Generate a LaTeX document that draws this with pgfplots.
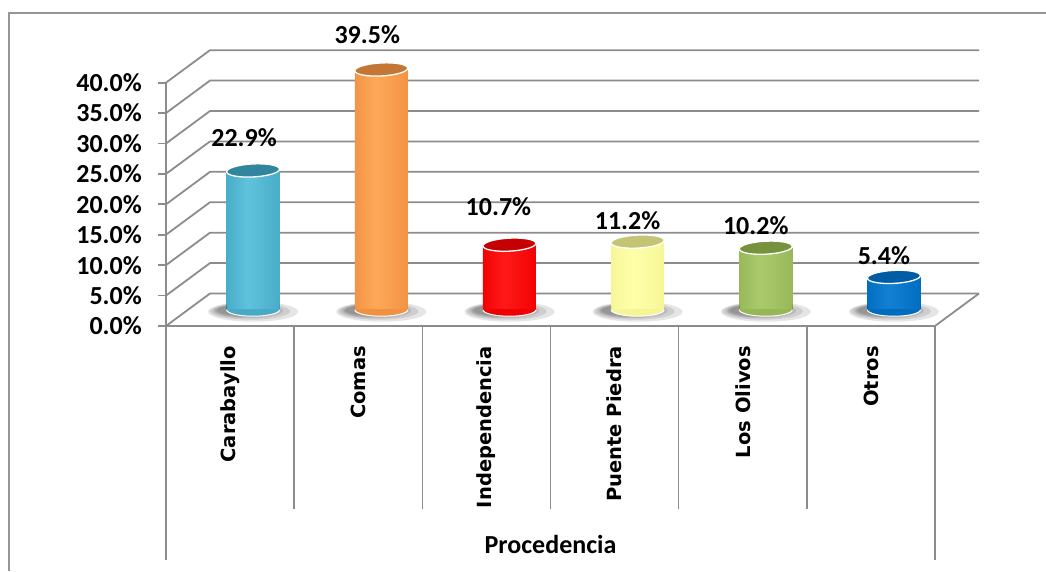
\documentclass[border=0pt]{standalone}
\usepackage{pgfplots}
\pgfplotsset{compat=1.18}
\usepackage{fontspec}
\setmainfont{Carlito}
\newfontfamily\catfont{DejaVu Sans}

\definecolor{gridgray}{RGB}{140,140,140}
\definecolor{framegray}{RGB}{150,150,150}
% teal
\definecolor{AD}{RGB}{45,128,152}\definecolor{AM}{RGB}{72,170,197}\definecolor{AL}{RGB}{95,195,222}\definecolor{AT}{RGB}{49,133,156}
% orange
\definecolor{BD}{RGB}{200,112,42}\definecolor{BM}{RGB}{240,145,65}\definecolor{BL}{RGB}{255,168,90}\definecolor{BT}{RGB}{196,118,52}
% red
\definecolor{CD}{RGB}{185,0,0}\definecolor{CM}{RGB}{240,0,0}\definecolor{CL}{RGB}{255,25,25}\definecolor{CT}{RGB}{196,0,0}
% yellow
\definecolor{DD}{RGB}{205,205,120}\definecolor{DM}{RGB}{245,245,150}\definecolor{DL}{RGB}{255,255,170}\definecolor{DT}{RGB}{196,196,116}
% green
\definecolor{ED}{RGB}{112,142,58}\definecolor{EM}{RGB}{150,183,88}\definecolor{EL}{RGB}{170,202,108}\definecolor{ET}{RGB}{118,146,60}
% blue
\definecolor{FD}{RGB}{0,80,150}\definecolor{FM}{RGB}{0,108,190}\definecolor{FL}{RGB}{20,128,212}\definecolor{FT}{RGB}{0,92,165}

\newcommand\defcyl[1]{%
  \pgfdeclarehorizontalshading{cyl#1}{100bp}{color(0bp)=(#1D); color(22bp)=(#1M); color(45bp)=(#1L); color(78bp)=(#1M); color(100bp)=(#1D)}%
}
\defcyl{A}\defcyl{B}\defcyl{C}\defcyl{D}\defcyl{E}\defcyl{F}

% lower half of the bottom ellipse (fill from mark options) with white rim
\pgfdeclareplotmark{cylbot}{%
  \pgfpathmoveto{\pgfqpoint{-26.5pt}{0.6pt}}%
  \pgfpathlineto{\pgfqpoint{-26.5pt}{0pt}}%
  \pgfpatharc{180}{360}{26.5pt and 6.5pt}%
  \pgfpathlineto{\pgfqpoint{26.5pt}{0.6pt}}%
  \pgfpathclose
  \pgfusepathqfill
  \pgfpathmoveto{\pgfqpoint{-26.5pt}{0pt}}%
  \pgfpatharc{180}{360}{26.5pt and 6.5pt}%
  \pgfusepathqstroke}

\pgfdeclareplotmark{cyltop}{%
  \pgftransformrotate{3}%
  \pgfpathellipse{\pgfpointorigin}{\pgfqpoint{26.5pt}{0pt}}{\pgfqpoint{0pt}{6.5pt}}%
  \pgfusepathqfillstroke}

% soft floor shadow, clipped so that it never covers the cylinder itself
\pgfdeclareplotmark{cylshadow}{%
  \begin{pgfscope}%
  \pgfpathrectangle{\pgfqpoint{-80pt}{-40pt}}{\pgfqpoint{160pt}{80pt}}%
  \pgfpathmoveto{\pgfqpoint{-26.5pt}{40pt}}%
  \pgfpathlineto{\pgfqpoint{-26.5pt}{0pt}}%
  \pgfpatharc{180}{360}{26.5pt and 6.5pt}%
  \pgfpathlineto{\pgfqpoint{26.5pt}{40pt}}%
  \pgfpathclose
  \pgfseteorule
  \pgfusepath{clip}%
  \pgfsetnonzerorule
  \pgfsetfillopacity{0.10}\pgfsetfillcolor{black}%
  \pgfpathellipse{\pgfpoint{0pt}{-2pt}}{\pgfqpoint{45pt}{0pt}}{\pgfqpoint{0pt}{10pt}}\pgfusepathqfill
  \pgfpathellipse{\pgfpoint{-3pt}{-1.5pt}}{\pgfqpoint{40pt}{0pt}}{\pgfqpoint{0pt}{8.5pt}}\pgfusepathqfill
  \pgfpathellipse{\pgfpoint{-5pt}{-1pt}}{\pgfqpoint{35pt}{0pt}}{\pgfqpoint{0pt}{7.5pt}}\pgfusepathqfill
  \pgfpathellipse{\pgfpoint{-7pt}{-1pt}}{\pgfqpoint{31pt}{0pt}}{\pgfqpoint{0pt}{6.5pt}}\pgfusepathqfill
  \pgfpathellipse{\pgfpoint{-9pt}{-0.5pt}}{\pgfqpoint{27pt}{0pt}}{\pgfqpoint{0pt}{5.5pt}}\pgfusepathqfill
  \end{pgfscope}}

% #1 x, #2 value, #3 colour letter, #4 label xshift, #5 label yshift
\newcommand\cyl[5]{%
  \addplot[only marks, mark=cylshadow, xshift=23pt, yshift=16.25pt] coordinates {(#1,0)};
  \addplot[ybar, bar width=53pt, bar shift=0pt, draw=none, shading=cyl#3, xshift=23pt, yshift=16.25pt] coordinates {(#1,#2)};
  \addplot[only marks, mark=cylbot, mark options={fill=#3M, draw=white, line width=1pt}, xshift=23pt, yshift=16.25pt] coordinates {(#1,0)};
  \addplot[only marks, mark=cyltop, mark options={fill=#3T, draw=white, line width=1.3pt}, xshift=23pt, yshift=16.25pt,
     point meta=y,
     nodes near coords={\pgfmathprintnumber[fixed,fixed zerofill,precision=1]{\pgfplotspointmeta}\%},
     every node near coord/.append style={anchor=center, xshift=#4, yshift=#5, font=\bfseries\fontsize{26}{26}\selectfont, text=black}]
     coordinates {(#1,#2)};
}

\begin{document}
\begin{tikzpicture}
\begin{axis}[
  x=128.17pt, y=6.083pt,
  xmin=-0.5, xmax=5.5, ymin=0, ymax=40,
  clip=false, set layers,
  axis lines*=left,
  axis line style={draw=gridgray, line width=1.8pt, -},
  xtick={0,...,5},
  xticklabels={Carabayllo,Comas,Independencia,Puente Piedra,Los Olivos,Otros},
  xtick style={draw=none},
  xticklabel style={rotate=90, anchor=east, inner sep=0pt, font=\catfont\bfseries\fontsize{19.5}{20}\selectfont},
  xticklabel shift=12pt,
  ytick={0,5,...,40},
  yticklabel={\pgfmathprintnumber[fixed,fixed zerofill,precision=1]{\tick}\%},
  yticklabel style={font=\bfseries\fontsize{26}{26}\selectfont, inner sep=0pt, xshift=-16pt},
  /pgf/number format/assume math mode=true,
  tick align=outside, major tick length=8pt,
  ytick style={draw=gridgray, line width=1.8pt},
  xlabel={Procedencia},
  xlabel style={at={(axis cs:2.5,-36)}, anchor=center, font=\bfseries\fontsize{26}{26}\selectfont},
]
\begin{pgfonlayer}{axis background}
  \pgfplotsinvokeforeach{0,5,...,40}{
    \draw[gridgray, line width=1.8pt] (axis cs:-0.5,#1) -- ++(44pt,32.5pt) -- ([xshift=44pt,yshift=32.5pt]axis cs:5.5,#1);
  }
  \draw[gridgray, line width=1.8pt] (axis cs:5.5,0) -- ++(44pt,32.5pt);
  \draw[gridgray, line width=1.5pt] (axis cs:-0.5,0) -- ([yshift=-234pt]axis cs:-0.5,0);
  \draw[gridgray, line width=1.5pt] (axis cs:5.5,0) -- ([yshift=-234pt]axis cs:5.5,0);
  \pgfplotsinvokeforeach{0.5,1.5,2.5,3.5,4.5}{
    \draw[gridgray, line width=1.5pt] (axis cs:#1,0) -- ([yshift=-183pt]axis cs:#1,0);
  }
  \draw[framegray, line width=1.8pt] (axis cs:-1.7249,-40.28) -- (axis cs:-1.7249,51.45) -- (axis cs:6.366,51.45);
\end{pgfonlayer}
\coordinate (BBL) at (axis cs:-1.7952,-40.28);
\coordinate (BTR) at (axis cs:6.366,53.59);

\cyl{0}{22.9}{A}{-9pt}{33pt}
\cyl{1}{39.5}{B}{-14pt}{35pt}
\cyl{2}{10.7}{C}{-11pt}{38pt}
\cyl{3}{11.2}{D}{-10pt}{21pt}
\cyl{4}{10.2}{E}{-10pt}{22pt}
\cyl{5}{5.4}{F}{-10pt}{21pt}
\end{axis}
\pgfresetboundingbox
\path[use as bounding box] (BBL) rectangle (BTR);
\end{tikzpicture}
\end{document}
